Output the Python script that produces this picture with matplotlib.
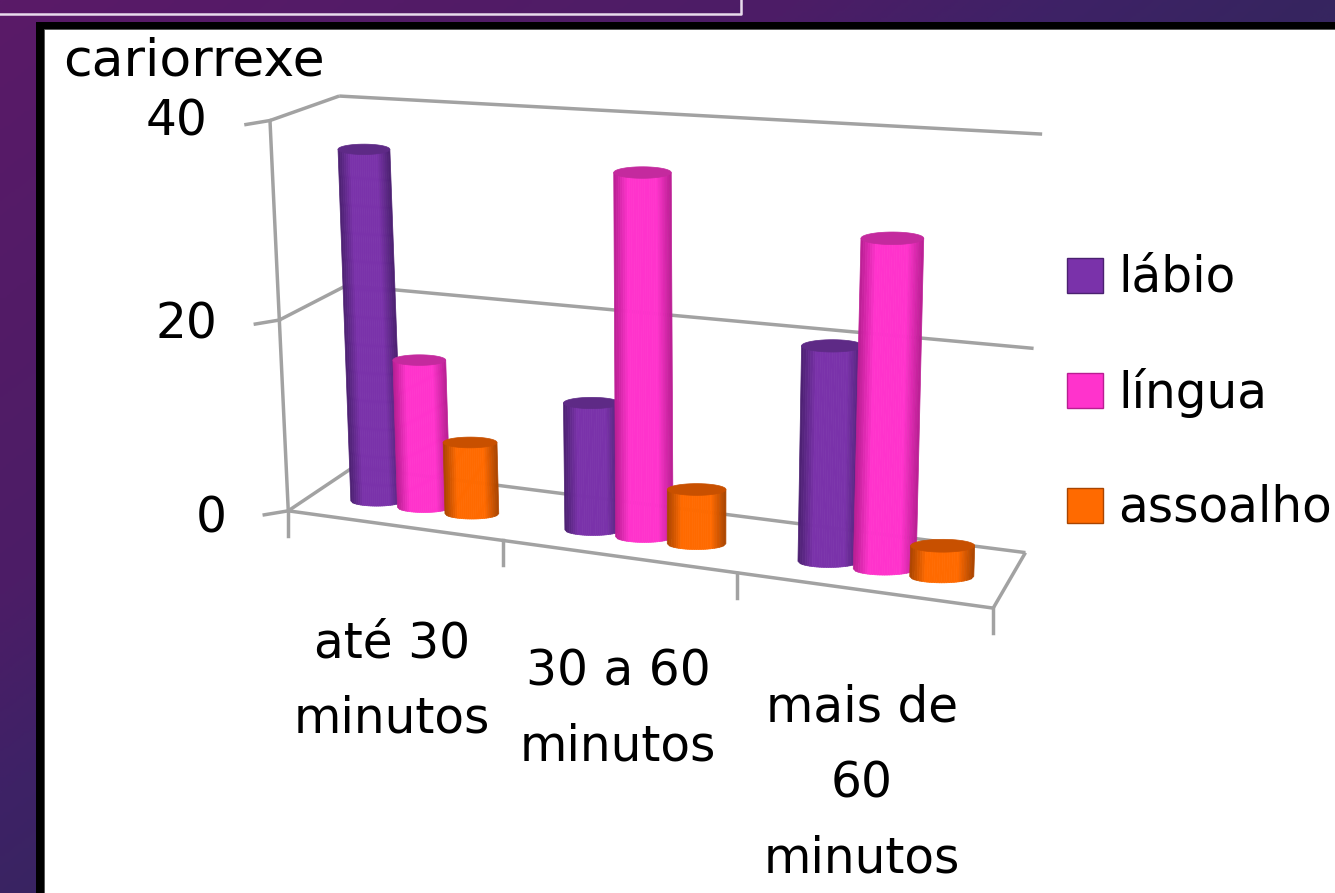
import numpy as np
import matplotlib
matplotlib.use("Agg")
import matplotlib.pyplot as plt
from matplotlib.collections import PolyCollection
from matplotlib.patches import Rectangle, Polygon
from matplotlib.colors import LinearSegmentedColormap

# ---- data ----
categories = ["até 30\nminutos", "30 a 60\nminutos", "mais de\n60\nminutos"]
series_names = ["lábio", "língua", "assoalho"]
labio = [36.5, 13, 21]
lingua = [15.5, 36, 31.5]
assoalho = [7.5, 5.5, 3]
y_ticks = [0, 20, 40]
axis_title = "cariorrexe"

# ---- styles ----
W, H = 1335, 893
main_colors = ["#7a32aa", "#ff33cc", "#ff6a00"]
edge_colors = ["#4a2070", "#b81e92", "#a84400"]
top_colors = ["#5e2a86", "#c42a9e", "#c85000"]
grid_col = "#a2a2a2"
FONT = "DejaVu Sans"
FS = 35

fig = plt.figure(figsize=(W / 100, H / 100), dpi=100)
ax = fig.add_axes([0, 0, 1, 1])
ax.set_xlim(0, W)
ax.set_ylim(H, 0)
ax.axis("off")

# ---- background ----
yy, xx = np.mgrid[0:1:300j, 0:1:400j]
grad = xx + yy * 0.9
cmap = LinearSegmentedColormap.from_list(
    "bg", [(0, "#5a1a68"), (0.6, "#4c1d66"), (0.8, "#3e2266"), (1, "#36255f")])
ax.imshow(np.clip(grad, 0, 1), extent=(0, W, H, 0), cmap=cmap, vmin=0, vmax=1, aspect="auto", zorder=0)
ax.set_xlim(0, W)
ax.set_ylim(H, 0)
ax.plot([0, 741, 741], [14, 14, 0], color="#e8dcec", lw=1.8, zorder=1)
ax.add_patch(Rectangle((36, 22), W, H, fc="black", ec="none", zorder=1))
ax.add_patch(Rectangle((44, 29), W, H, fc="white", ec="#555555", lw=0.6, zorder=2))

# ---- 3D projection fitted on the box corners ----
# (category axis u, depth d, value v) -> picture pixel
n_cat = len(categories)
vmax = y_ticks[-1]
world = [(0, 0, 0), (n_cat, 0, 0), (0, 1, 0), (n_cat, 1, 0),
         (0, 0, vmax), (n_cat, 0, vmax), (0, 1, vmax), (n_cat, 1, vmax)]
pix = [(290, 510), (1012, 606), (350, 470), (1010, 552),
       (266, 117), (992, 172), (345, 97), (1056, 130)]
A, b = [], []
for (u, d, v), (px, py) in zip(world, pix):
    A.append([u, d, v, 1, 0, 0, 0, 0, -px * u, -px * d, -px * v])
    b.append(px)
    A.append([0, 0, 0, 0, u, d, v, 1, -py * u, -py * d, -py * v])
    b.append(py)
P = np.linalg.lstsq(np.array(A, float), np.array(b, float), rcond=None)[0]
P = np.append(P, 1).reshape(3, 4)


def proj(u, d, v):
    q = P @ np.array([u, d, v, 1.0])
    return q[:2] / q[2]


def gline(a, b, **kw):
    p, q = proj(*a), proj(*b)
    kw.setdefault("color", grid_col)
    kw.setdefault("lw", 2.5)
    ax.plot([p[0], q[0]], [p[1], q[1]], solid_capstyle="butt", zorder=3, **kw)


# walls and floor
for t in y_ticks:
    gline((0, 0, t), (0, 1, t))
    gline((0, 1, t), (n_cat, 1, t))
    p = proj(0, 0, t)
    ax.plot([p[0] - 24, p[0]], [p[1] + 4, p[1]], color=grid_col, lw=2.5, zorder=3)
    ax.text(p[0] - 62, p[1] + 8 - t * 0.17, str(t), ha="right", va="center",
            fontsize=FS, family=FONT, color="black", zorder=6)
gline((0, 0, 0), (0, 0, vmax))
gline((0, 0, 0), (n_cat, 0, 0))
gline((n_cat, 0, 0), (n_cat, 1, 0))
for i in range(n_cat + 1):
    p = proj(i, 0, 0)
    ax.plot([p[0], p[0]], [p[1], p[1] + 25], color=grid_col, lw=2.5, zorder=3)

# ---- cylinders ----
all_values = [labio, lingua, assoalho]
offsets = [-0.2, 0.025, 0.25]
radius = 0.125
depth_mid = 0.4


def shade(c_edge, c_main, t):
    ce, cm = matplotlib.colors.to_rgb(c_edge), matplotlib.colors.to_rgb(c_main)
    f = min(1, (1 - abs(t)) * 2.0)
    return tuple(np.array(ce) * (1 - f) + np.array(cm) * f)


def cylinder(uc, val, s, z):
    bot = proj(uc, depth_mid, 0)
    top = proj(uc, depth_mid, val)
    rx = (proj(uc + radius, depth_mid, 0)[0] - proj(uc - radius, depth_mid, 0)[0]) / 2
    ry = rx * 0.2
    ts = np.linspace(-1, 1, 27)
    quads, cols = [], []
    for a, c in zip(ts[:-1], ts[1:]):
        m = (a + c) / 2
        quads.append([(top[0] + a * rx, top[1]),
                      (top[0] + c * rx, top[1]),
                      (bot[0] + c * rx, bot[1] + ry * np.sqrt(max(0, 1 - c * c))),
                      (bot[0] + a * rx, bot[1] + ry * np.sqrt(max(0, 1 - a * a)))])
        cols.append(shade(edge_colors[s], main_colors[s], m))
    ax.add_collection(PolyCollection(quads, facecolors=cols, edgecolors=cols, linewidths=0.5, zorder=z))
    th = np.linspace(0, 2 * np.pi, 50)
    ell = np.c_[top[0] + rx * np.cos(th), top[1] + ry * np.sin(th)]
    ax.add_patch(Polygon(ell, closed=True, fc=top_colors[s], ec=top_colors[s], lw=0.5, zorder=z + 0.01))


z = 4.0
for c in range(n_cat):
    for s, vals in enumerate(all_values):
        cylinder(c + 0.5 + offsets[s], vals[c], s, z)
        z += 0.05

# ---- category labels ----
label_xy = [(392, 681), (618, 709), (862, 783)]
for txt, (x, y) in zip(categories, label_xy):
    ax.text(x, y, txt, ha="center", va="center", fontsize=FS, family=FONT,
            color="black", linespacing=1.72, zorder=6)

ax.text(63, 62, axis_title, ha="left", va="center", fontsize=37.5, family=FONT, zorder=6)

# ---- legend ----
for i, name in enumerate(series_names):
    y0 = 258 + i * 115
    ax.add_patch(Rectangle((1067, y0), 36, 35, fc=main_colors[i], ec=edge_colors[i], lw=1, zorder=6))
    ax.text(1118, y0 + 20, name, ha="left", va="center", fontsize=FS, family=FONT, zorder=6)

fig.savefig("out.png", dpi=100)
